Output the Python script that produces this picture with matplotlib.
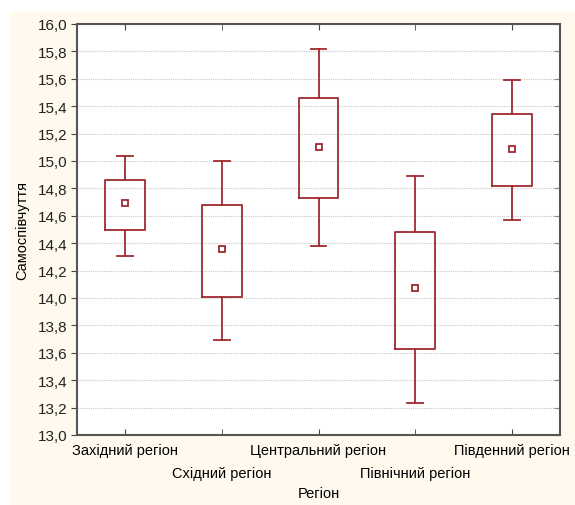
import matplotlib.pyplot as plt
from matplotlib.patches import Rectangle
from matplotlib.ticker import FuncFormatter, MultipleLocator, FixedLocator

regions = ["Західний регіон", "Східний регіон", "Центральний регіон",
           "Північний регіон", "Південний регіон"]
means = [14.69, 14.36, 15.10, 14.07, 15.09]
box_low = [14.50, 14.01, 14.73, 13.63, 14.82]
box_high = [14.86, 14.68, 15.46, 14.48, 15.34]
whisk_low = [14.31, 13.69, 14.38, 13.23, 14.57]
whisk_high = [15.04, 15.00, 15.82, 14.89, 15.59]

red = "#9e2a2f"
cream = "#fff9ee"

plt.rcParams['font.family'] = ['Liberation Sans', 'DejaVu Sans']

fig = plt.figure(figsize=(5.75, 5.06), dpi=100, facecolor="white")
# cream panel behind the chart
fig.patches.append(Rectangle((10 / 575, 0), 1, 1 - 13 / 506,
                             transform=fig.transFigure, facecolor=cream,
                             edgecolor="none", zorder=-1))

ax = fig.add_axes([77 / 575, 1 - 436 / 506, (560 - 77) / 575, (436 - 25) / 506])
ax.set_facecolor("white")

stats = []
for i in range(len(regions)):
    stats.append({"med": means[i], "q1": box_low[i], "q3": box_high[i],
                  "whislo": whisk_low[i], "whishi": whisk_high[i],
                  "mean": means[i], "fliers": []})

pos = list(range(1, len(regions) + 1))
ax.bxp(stats, positions=pos, widths=0.41, showmeans=True, showfliers=False,
       boxprops=dict(color=red, linewidth=1.3),
       whiskerprops=dict(color=red, linewidth=1.3),
       capprops=dict(color=red, linewidth=1.3),
       medianprops=dict(linewidth=0),
       meanprops=dict(marker="s", markerfacecolor="white", markeredgecolor=red,
                      markersize=5, markeredgewidth=1.3),
       capwidths=0.165)

ax.set_xlim(0.5, 5.5)
ax.set_ylim(13.0, 16.0)
ax.yaxis.set_major_locator(MultipleLocator(0.2))
ax.yaxis.set_major_formatter(FuncFormatter(lambda v, p: f"{v:.1f}".replace(".", ",")))
ax.grid(axis="y", color="#c8c8c8", linestyle=(0, (1, 1)), linewidth=0.8)
ax.set_axisbelow(True)

# two rows of category labels: major ticks on top row, minor ticks on bottom row
ax.xaxis.set_major_locator(FixedLocator(pos[0::2]))
ax.xaxis.set_minor_locator(FixedLocator(pos[1::2]))
ax.set_xticklabels(regions[0::2], fontsize=10.5)
ax.set_xticklabels(regions[1::2], minor=True, fontsize=10.5)
ax.tick_params(axis="x", which="both", direction="in", top=True, length=4,
               color="#444444")
ax.tick_params(axis="x", which="major", pad=6)
ax.tick_params(axis="x", which="minor", pad=22)
ax.tick_params(axis="y", direction="out", length=4, labelsize=11, pad=3,
               color="#444444", labelcolor="#222222")

# inward ticks on the right side
sec = ax.secondary_yaxis("right")
sec.yaxis.set_major_locator(MultipleLocator(0.2))
sec.tick_params(direction="in", length=4, labelright=False, color="#444444")
sec.spines["right"].set_visible(False)

for s in ax.spines.values():
    s.set_color("#555555")
    s.set_linewidth(1.5)

ax.set_ylabel("Самоспівчуття", fontsize=10.5, labelpad=6)
ax.set_xlabel("Регіон", fontsize=10.5)
ax.xaxis.set_label_coords(0.5, -0.125)

fig.savefig("out.png", dpi=100, facecolor=fig.get_facecolor())
